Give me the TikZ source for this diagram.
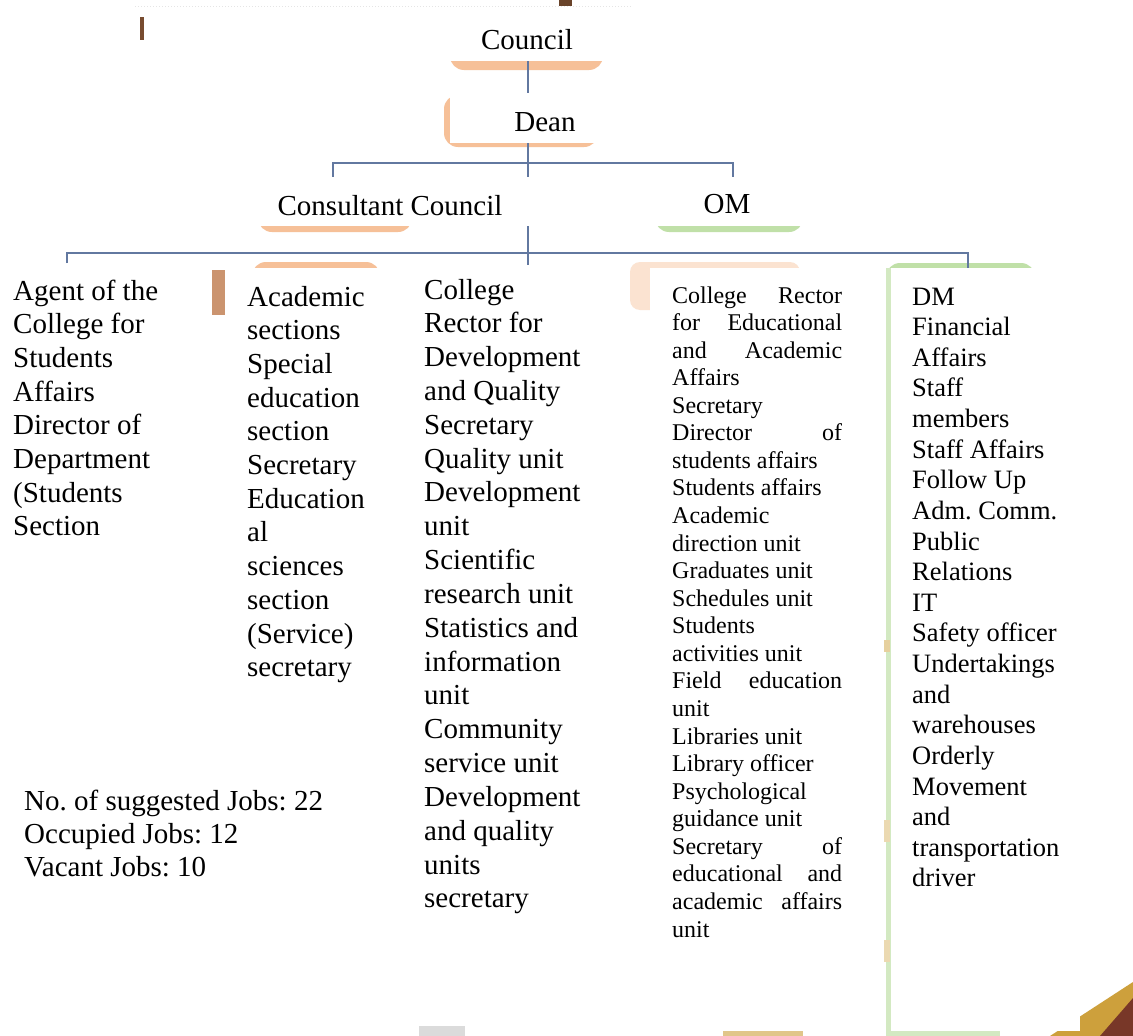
\documentclass[tikz,border=0pt]{standalone}
\usepackage{fontspec}
\setmainfont{Liberation Serif}
\definecolor{linecol}{RGB}{98,120,160}
\definecolor{blobor}{RGB}{246,192,152}
\definecolor{blobgr}{RGB}{192,224,168}
\definecolor{smudge}{RGB}{150,95,60}
\definecolor{goldc}{RGB}{205,160,60}
\definecolor{brownc}{RGB}{120,55,40}
\newcommand{\setfs}[2]{\fontsize{#1}{#2}\selectfont\frenchspacing}
\begin{document}
\begin{tikzpicture}[x=1pt,y=-1pt,
  wbox/.style={fill=white, draw=none, inner sep=0pt, outer sep=0pt},
  conn/.style={draw=linecol, line width=1.9pt},
  blobO/.style={fill=blobor, rounded corners=14pt},
  blobG/.style={fill=blobgr, rounded corners=14pt},
  lbl/.style={inner sep=0pt, anchor=base, font=\setfs{29}{33.7}},
  coltext/.style={inner sep=0pt, anchor=base west}]
\useasboundingbox (0,0) rectangle (1133,1036);
\fill[white] (0,0) rectangle (1133,1036);

% faint artifacts at the top
\draw[black!10, line width=1pt, dotted] (135,6) -- (632,6);
\fill[smudge!80!black] (140,17) rectangle (144,40);
\fill[smudge!70!black] (559,0) rectangle (572,6);

% coloured shapes peeking behind the white boxes
\path[blobO] (450,20) rectangle (603,70);
\path[blobO] (444,95) rectangle (598,147);
\path[blobO] (258,182) rectangle (412,232);
\path[blobG] (655,182) rectangle (803,232);
\path[blobO] (252,262) rectangle (380,320);
\path[fill=blobor!45, rounded corners=10pt] (630,262) rectangle (800,310);
\path[blobG] (886,263) rectangle (1035,320);
\fill[smudge!45!blobor] (212,270) rectangle (225,315);
\fill[blobgr!70] (886,268) rectangle (891,1036);
\fill[blobgr!70] (886,1031) rectangle (1000,1036);
\fill[goldc!50] (884,640) rectangle (890,652);
\fill[goldc!40] (884,820) rectangle (890,842);
\fill[goldc!40] (884,940) rectangle (890,962);
\fill[goldc!60] (723,1031) rectangle (803,1036);
\fill[black!14] (419,1026) rectangle (465,1036);

% bottom-right corner fragment
\fill[goldc] (1050,1036) -- (1133,982) -- (1133,1036) -- cycle;
\fill[brownc] (1100,1036) -- (1133,998) -- (1133,1036) -- cycle;

% connector coordinates
\coordinate (trunk) at (528,0);
\coordinate (ub1) at (333,163);
\coordinate (ub2) at (733,163);
\coordinate (lb1) at (67,253);
\coordinate (lb2) at (968,253);

% white boxes (named)
\node[wbox, minimum width=202pt, minimum height=49pt] (councilbox) at (521,36.5) {};
\node[wbox, minimum width=153pt, minimum height=50pt] (deanbox) at (526.5,118) {};
\node[wbox, minimum width=380pt, minimum height=49pt] (consbox) at (440,201.5) {};
\node[wbox, minimum width=190pt, minimum height=49pt] (ombox) at (728,201.5) {};
\node[wbox, minimum width=212pt, minimum height=300pt, anchor=north west] (c1box) at (0,263) {};
\node[wbox, minimum width=165pt, minimum height=440pt, anchor=north west] (c2box) at (226,268) {};
\node[wbox, minimum width=208pt, minimum height=660pt, anchor=north west] (c3box) at (400,265) {};
\node[wbox, minimum width=205pt, minimum height=730pt, anchor=north west] (c4box) at (650,268) {};

% connectors
\draw[conn] (councilbox.south -| trunk) -- (deanbox.north -| trunk);
\draw[conn] (deanbox.south -| trunk) -- (c3box.north -| trunk);
\draw[conn] (consbox.north -| ub1) -- (ub1) -- (ub2) -- (ombox.north -| ub2);
\draw[conn] (c1box.north -| lb1) -- (lb1) -- (lb2) -- (lb2 |- 0,268);

% boxes on top of the lines
\node[wbox, minimum width=380pt, minimum height=49pt] (consbox2) at (440,201.5) {};
\node[wbox, minimum width=190pt, minimum height=49pt] (ombox2) at (728,201.5) {};
\node[wbox, minimum width=189pt, minimum height=763pt, anchor=north west] (c5box) at (891,268) {};

% top labels
\node[lbl] (council) at (527,49) {Council};
\node[lbl] (dean) at (545,131) {Dean};
\node[lbl] (consultant) at (390,215) {Consultant Council};
\node[lbl] (om) at (727,213) {OM};

% columns
\node[coltext] (col1) at (13,300) {\parbox[t]{195pt}{\setfs{29}{33.7}%
Agent of the\\
College for\\
Students\\
Affairs\\
Director of\\
Department\\
(Students\\
Section}};

\node[coltext] (col2) at (247,306) {\parbox[t]{150pt}{\setfs{29}{33.7}%
Academic\\
sections\\
Special\\
education\\
section\\
Secretary\\
Education\\
al\\
sciences\\
section\\
(Service)\\
secretary}};

\node[coltext] (col3) at (424,299) {\parbox[t]{200pt}{\setfs{29}{33.83}%
College\\
Rector for\\
Development\\
and Quality\\
Secretary\\
Quality unit\\
Development\\
unit\\
Scientific\\
research unit\\
Statistics and\\
information\\
unit\\
Community\\
service unit\\
Development\\
and quality\\
units\\
secretary}};

\node[coltext] (col4) at (672,303) {\parbox[t]{170pt}{\setfs{24}{27.57}%
College\hfill Rector\\
for\hfill Educational\\
and\hfill Academic\\
Affairs\\
Secretary\\
Director\hfill of\\
students affairs\\
Students affairs\\
Academic\\
direction unit\\
Graduates unit\\
Schedules unit\\
Students\\
activities unit\\
Field\hfill education\\
unit\\
Libraries unit\\
Library officer\\
Psychological\\
guidance unit\\
Secretary\hfill of\\
educational\hfill and\\
academic\hfill affairs\\
unit}};

\node[coltext] (col5) at (912,305) {\parbox[t]{165pt}{\setfs{26.5}{30.63}%
DM\\
Financial\\
Affairs\\
Staff\\
members\\
Staff Affairs\\
Follow Up\\
Adm. Comm.\\
Public\\
Relations\\
IT\\
Safety officer\\
Undertakings\\
and\\
warehouses\\
Orderly\\
Movement\\
and\\
transportation\\
driver}};

\node[coltext] (stats) at (24,810) {\parbox[t]{330pt}{\setfs{29}{33}%
No. of suggested Jobs: 22\\
Occupied Jobs: 12\\
Vacant Jobs: 10}};
\end{tikzpicture}
\end{document}
